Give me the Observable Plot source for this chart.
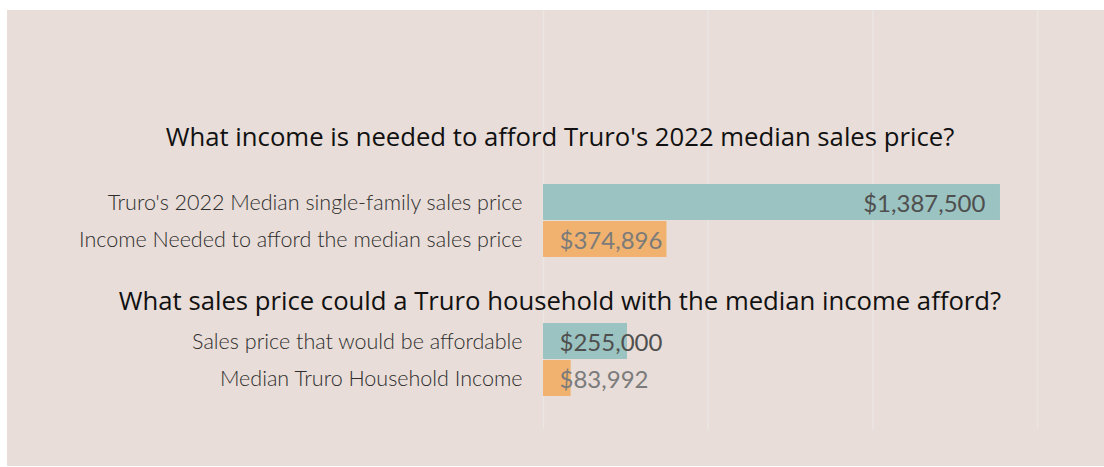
<!DOCTYPE html>
<html>
<head>
<meta charset="utf-8">
<script src="https://cdn.jsdelivr.net/npm/d3@7"></script>
<script src="https://cdn.jsdelivr.net/npm/@observablehq/plot@0.6"></script>
<style>
  html, body { margin: 0; padding: 0; background: #ffffff; }
  #wrap { position: absolute; left: 7px; top: 10px; width: 1097px; height: 456px; background: #e8ddd8; overflow: hidden; }
  .plot { position: absolute; left: 0; }
  .title { position: absolute; left: 0; width: 1106px; text-align: center; font-family: "Open Sans", sans-serif; font-size: 25.7px; color: #111; line-height: 32px; white-space: nowrap; }
</style>
</head>
<body>
<div id="wrap"></div>
<script>
// ---- data ----
const titles = [
  "What income is needed to afford Truro's 2022 median sales price?",
  "What sales price could a Truro household with the median income afford?"
];
const group1Labels = ["Truro's 2022 Median single-family sales price", "Income Needed to afford the median sales price"];
const group1Values = [1387500, 374896];
const group2Labels = ["Sales price that would be affordable", "Median Truro Household Income"];
const group2Values = [255000, 83992];
const gridTicks = [0, 500000, 1000000, 1500000];

// ---- styles ----
const barColors = ["#9bc3c1", "#f0b26e"];
const valueColors = ["#4f4f4f", "#7b7b7b"];
const fmt = d3.format("$,");
const W = 1097;
const wrap = document.getElementById("wrap");

function makePlot(labels, values, height, yRange, top) {
  const rows = labels.map((label, i) => ({label, value: values[i], i}));
  const big = rows.filter(d => d.value > 1000000);
  const small = rows.filter(d => d.value <= 1000000);
  const p = Plot.plot({
    width: W,
    height,
    marginLeft: 536,
    marginRight: 67,
    marginTop: 0,
    marginBottom: 0,
    style: {background: "transparent", fontFamily: "Lato, sans-serif", overflow: "visible"},
    x: {domain: [0, 1500000], axis: null},
    y: {domain: labels, range: yRange, padding: 0, axis: null},
    color: {type: "identity"},
    marks: [
      Plot.ruleX(gridTicks, {stroke: "#ebe6e4", strokeWidth: 1.5}),
      Plot.barX(rows, {x: "value", y: "label", fill: d => barColors[d.i], insetBottom: 1}),
      Plot.axisY({tickSize: 0, tickPadding: 21, fontSize: 21.5, fontWeight: 300, fill: "#2e2e2e", label: null}),
      Plot.text(big, {x: "value", y: "label", text: d => fmt(d.value), textAnchor: "end", dx: -15, dy: 1, fontSize: 24, fill: d => valueColors[d.i]}),
      Plot.text(small, {x: 0, y: "label", text: d => fmt(d.value), textAnchor: "start", dx: 16, dy: 1, fontSize: 24, fill: d => valueColors[d.i]})
    ]
  });
  p.classList.add("plot");
  p.style.top = top + "px";
  wrap.appendChild(p);
}

makePlot(group1Labels, group1Values, 265, [174, 248], 0);
makePlot(group2Labels, group2Values, 154, [48, 122], 265);

const titleCenters = [127, 291];
titles.forEach((t, i) => {
  const d = document.createElement("div");
  d.className = "title";
  d.textContent = t;
  d.style.top = (titleCenters[i] - 16) + "px";
  wrap.appendChild(d);
});
</script>
</body>
</html>
